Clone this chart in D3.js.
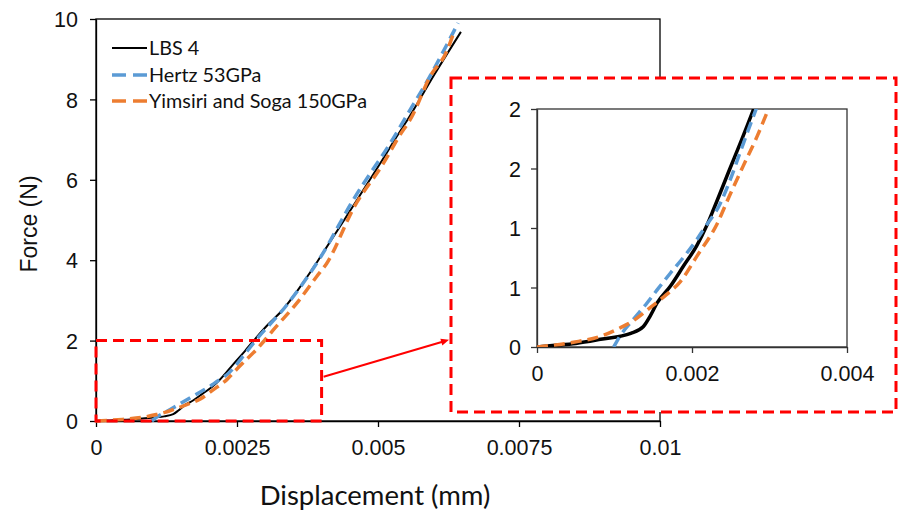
<!DOCTYPE html>
<html><head><meta charset="utf-8">
<script src="https://cdn.jsdelivr.net/npm/d3@7"></script>
<style>
html,body{margin:0;padding:0;background:#fff;}
svg{display:block;}
</style></head>
<body>
<svg id="chart" width="899" height="513"></svg>
<script>
// ---------- data ----------
const seriesNames = ["LBS 4", "Hertz 53GPa", "Yimsiri and Soga 150GPa"];
const lbs4 = [[0,0],[0.0002,0.012],[0.0005,0.03],[0.00082,0.065],[0.00121,0.115],[0.00137,0.17],[0.00146,0.26],[0.00155,0.37],[0.00172,0.51],[0.00189,0.68],[0.00206,0.85],[0.00219,1.02],[0.00228,1.16],[0.00249,1.5],[0.00264,1.74],[0.00279,1.99],[0.00305,2.4],[0.00332,2.78],[0.00356,3.22],[0.00379,3.68],[0.00394,4.0],[0.0045,5.22],[0.00504,6.41],[0.00533,7.07],[0.00554,7.53],[0.006,8.62],[0.00647,9.68]];
const hertz = [[0.00099,0],[0.00107,0.09],[0.00124,0.23],[0.00142,0.37],[0.00155,0.48],[0.00172,0.62],[0.00191,0.77],[0.00206,0.9],[0.00215,0.99],[0.00236,1.2],[0.00249,1.4],[0.00264,1.67],[0.00281,1.97],[0.00338,2.88],[0.00397,4.05],[0.00456,5.5],[0.0053,7.1],[0.00548,7.53],[0.00587,8.45],[0.00642,9.9]];
const yimsiri = [[0,0],[0.00047,0.04],[0.00082,0.09],[0.00107,0.16],[0.00124,0.22],[0.00146,0.33],[0.00167,0.44],[0.00185,0.55],[0.00207,0.77],[0.00232,1.03],[0.00249,1.28],[0.00266,1.52],[0.00284,1.77],[0.00298,1.99],[0.00314,2.26],[0.00356,2.93],[0.00391,3.59],[0.00409,3.92],[0.00458,5.33],[0.0051,6.42],[0.00537,7.07],[0.0056,7.57],[0.00592,8.56],[0.00622,9.2],[0.00636,9.73]];
const mainXTicks = [0, 0.0025, 0.005, 0.0075, 0.01];
const mainXTickLabels = ["0", "0.0025", "0.005", "0.0075", "0.01"];
const mainYTicks = [0, 2, 4, 6, 8, 10];
const mainYTickLabels = ["0", "2", "4", "6", "8", "10"];
const insetXTicks = [0, 0.002, 0.004];
const insetXTickLabels = ["0", "0.002", "0.004"];
const insetYTicks = [0, 0.5, 1, 1.5, 2];
const insetYTickLabels = ["0", "1", "1", "2", "2"];
const zoomWindow = {x: [0, 0.004], y: [0, 2]};
const xTitle = "Displacement (mm)";
const yTitle = "Force (N)";

// ---------- styles ----------
const colors = ["#000000", "#5B9BD5", "#ED7D31"];
const tickFont = "'Liberation Sans', Arial, sans-serif";
const calFont = "Lato, 'Open Sans', sans-serif";
const red = "#FF0000";

const svg = d3.select("#chart");
const series = [lbs4, hertz, yimsiri];

// ---------- main chart ----------
const M = {l: 96, r: 660, t: 19, b: 421};
const x = d3.scaleLinear().domain([0, 0.01]).range([M.l, M.r]);
const y = d3.scaleLinear().domain([0, 10]).range([M.b, M.t]);

const gMain = svg.append("g");
gMain.append("rect").attr("x", M.l).attr("y", M.t).attr("width", M.r - M.l).attr("height", M.b - M.t)
  .attr("fill", "none").attr("stroke", "#000").attr("stroke-width", 1.3);

const xAxis = d3.axisBottom(x).tickValues(mainXTicks).tickSize(6).tickSizeOuter(0)
  .tickFormat((d, i) => mainXTickLabels[i]);
const yAxis = d3.axisLeft(y).tickValues(mainYTicks).tickSize(6).tickSizeOuter(0)
  .tickFormat((d, i) => mainYTickLabels[i]);
const gx = gMain.append("g").attr("transform", `translate(0,${M.b})`).call(xAxis);
const gy = gMain.append("g").attr("transform", `translate(${M.l},0)`).call(yAxis);
[gx, gy].forEach(g => {
  g.select(".domain").attr("stroke", "#000").attr("stroke-width", 1.3);
  g.selectAll(".tick line").attr("stroke", "#000").attr("stroke-width", 1.3);
  g.selectAll(".tick text").attr("font-family", tickFont).attr("font-size", 21.5).attr("fill", "#111");
});
gx.selectAll(".tick text").attr("y", 19);
gy.selectAll(".tick text").attr("x", -18).attr("dy", "0.36em");

const line = d3.line().x(d => x(d[0])).y(d => y(d[1])).curve(d3.curveMonotoneX);
const mainWidths = [2, 3.5, 3.5];
const dashes = [null, "11,6", "11,6"];
series.forEach((s, i) => {
  gMain.append("path").datum(s).attr("d", line).attr("fill", "none")
    .attr("stroke", colors[i]).attr("stroke-width", mainWidths[i])
    .attr("stroke-dasharray", dashes[i]);
});

// legend
const legY = [48, 75, 101];
series.forEach((s, i) => {
  const lg = gMain.append("g");
  lg.append("line").attr("x1", 112).attr("x2", 147).attr("y1", legY[i]).attr("y2", legY[i])
    .attr("stroke", colors[i]).attr("stroke-width", i === 0 ? 2 : 3.5)
    .attr("stroke-dasharray", i === 0 ? null : "14,7");
  lg.append("text").attr("x", 149).attr("y", legY[i]).attr("dy", "0.36em")
    .attr("font-family", calFont).attr("font-size", 19.8).attr("fill", "#111").text(seriesNames[i]);
});

// axis titles
svg.append("text").attr("x", 375).attr("y", 505).attr("text-anchor", "middle")
  .attr("font-family", calFont).attr("font-size", 27.5).attr("fill", "#111").text(xTitle);
svg.append("text").attr("transform", "translate(37,224) rotate(-90)").attr("text-anchor", "middle")
  .attr("font-family", tickFont).attr("font-size", 23).attr("fill", "#111").text(yTitle);

// zoom window rectangle in main chart
svg.append("rect")
  .attr("x", x(zoomWindow.x[0])).attr("y", y(zoomWindow.y[1]))
  .attr("width", x(zoomWindow.x[1]) - x(zoomWindow.x[0]))
  .attr("height", y(zoomWindow.y[0]) - y(zoomWindow.y[1]))
  .attr("fill", "none").attr("stroke", red).attr("stroke-width", 3).attr("stroke-dasharray", "11,6");

// ---------- inset ----------
const F = {x: 451, y: 78, w: 445, h: 334};
svg.append("rect").attr("x", F.x).attr("y", F.y).attr("width", F.w).attr("height", F.h)
  .attr("fill", "#fff").attr("stroke", red).attr("stroke-width", 3).attr("stroke-dasharray", "11,6");

const I = {l: 537, r: 847, t: 109, b: 347};
const xi = d3.scaleLinear().domain(zoomWindow.x).range([I.l, I.r]);
const yi = d3.scaleLinear().domain(zoomWindow.y).range([I.b, I.t]);
const gIn = svg.append("g");
gIn.append("clipPath").attr("id", "insetClip").append("rect")
  .attr("x", I.l).attr("y", I.t).attr("width", I.r - I.l).attr("height", I.b - I.t);
gIn.append("rect").attr("x", I.l).attr("y", I.t).attr("width", I.r - I.l).attr("height", I.b - I.t)
  .attr("fill", "none").attr("stroke", "#333").attr("stroke-width", 1.3);
const gxi = gIn.append("g").attr("transform", `translate(0,${I.b})`)
  .call(d3.axisBottom(xi).tickValues(insetXTicks).tickSize(6).tickSizeOuter(0).tickFormat((d, i) => insetXTickLabels[i]));
const gyi = gIn.append("g").attr("transform", `translate(${I.l},0)`)
  .call(d3.axisLeft(yi).tickValues(insetYTicks).tickSize(6).tickSizeOuter(0).tickFormat((d, i) => insetYTickLabels[i]));
[gxi, gyi].forEach(g => {
  g.select(".domain").attr("stroke", "#333").attr("stroke-width", 1.3);
  g.selectAll(".tick line").attr("stroke", "#333").attr("stroke-width", 1.3);
  g.selectAll(".tick text").attr("font-family", tickFont).attr("font-size", 21.5).attr("fill", "#111");
});
gxi.selectAll(".tick text").attr("y", 19);
gyi.selectAll(".tick text").attr("x", -16).attr("dy", "0.36em");

const linei = d3.line().x(d => xi(d[0])).y(d => yi(d[1])).curve(d3.curveMonotoneX);
const insetWidths = [3.5, 3.5, 3.5];
const gCurves = gIn.append("g").attr("clip-path", "url(#insetClip)");
series.forEach((s, i) => {
  gCurves.append("path").datum(s).attr("d", linei).attr("fill", "none")
    .attr("stroke", colors[i]).attr("stroke-width", insetWidths[i])
    .attr("stroke-dasharray", dashes[i]);
});

// ---------- arrow ----------
const ax0 = x(zoomWindow.x[1]) + 2, ay0 = y(1.1);
const ax1 = F.x - 2, ay1 = y(2.02);
const ang = Math.atan2(ay1 - ay0, ax1 - ax0);
svg.append("line").attr("x1", ax0).attr("y1", ay0).attr("x2", ax1 - 5 * Math.cos(ang)).attr("y2", ay1 - 5 * Math.sin(ang))
  .attr("stroke", red).attr("stroke-width", 2);
const ah = 8, aw = 3.5;
const p = [[ax1, ay1],
  [ax1 - ah * Math.cos(ang) + aw * Math.sin(ang), ay1 - ah * Math.sin(ang) - aw * Math.cos(ang)],
  [ax1 - ah * Math.cos(ang) - aw * Math.sin(ang), ay1 - ah * Math.sin(ang) + aw * Math.cos(ang)]];
svg.append("path").attr("d", "M" + p.map(q => q.join(",")).join("L") + "Z").attr("fill", red);
</script>
</body></html>
